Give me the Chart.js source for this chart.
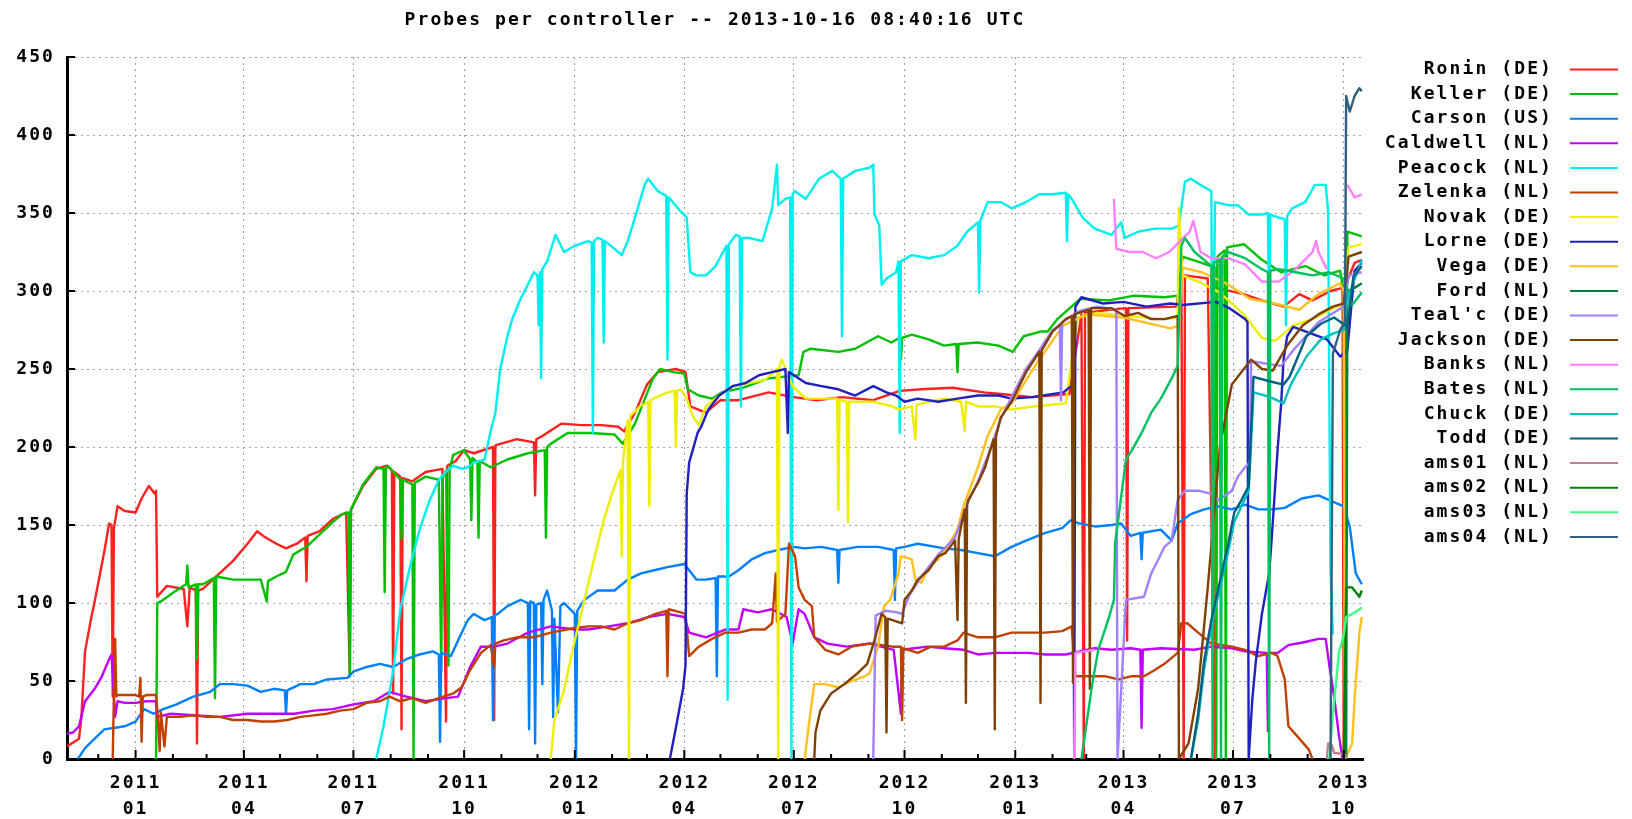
<!DOCTYPE html>
<html lang="en">
<head>
<meta charset="UTF-8">
<title>Probes per controller</title>
<script src="https://cdn.jsdelivr.net/npm/chart.js"></script>
<style>
    body { margin: 0; background: #fff; }
    #wrap { width: 1632px; height: 819px; }
</style>
</head>
<body>
<div id="wrap"><canvas id="probeChart" width="1632" height="819"></canvas></div>
<script>
// chart title and controller names (legend order)
const chartTitle = 'Probes per controller -- 2013-10-16 08:40:16 UTC';
const controllers = ['Ronin (DE)', 'Keller (DE)', 'Carson (US)', 'Caldwell (NL)', 'Peacock (NL)', 'Zelenka (NL)',
    'Novak (DE)', 'Lorne (DE)', 'Vega (DE)', 'Ford (NL)', "Teal'c (DE)", 'Jackson (DE)', 'Banks (NL)',
    'Bates (NL)', 'Chuck (DE)', 'Todd (DE)', 'ams01 (NL)', 'ams02 (NL)', 'ams03 (NL)', 'ams04 (NL)'];

// x range and y ticks
const xStart = '2010-11-05';
const xEnd = '2013-10-17';
const yTicks = [0, 50, 100, 150, 200, 250, 300, 350, 400, 450];

// probe counts per controller, [date, probes]
const ronin = [['2010-11-05',8],['2010-11-15',13],['2010-11-17',27],['2010-11-20',69],['2010-11-25',90],['2010-11-28',101],['2010-12-02',117],['2010-12-06',133],['2010-12-10',151],['2010-12-12',150],['2010-12-13',40],['2010-12-14',148],['2010-12-17',162],['2010-12-23',159],['2011-01-01',158],['2011-01-06',167],['2011-01-12',175],['2011-01-17',170],['2011-01-18',172],['2011-01-19',104],['2011-01-27',111],['2011-02-10',109],['2011-02-13',85],['2011-02-15',110],['2011-02-20',108],['2011-02-21',10],['2011-02-22',108],['2011-02-26',109],['2011-03-09',117],['2011-03-23',127],['2011-04-04',138],['2011-04-12',146],['2011-04-17',143],['2011-04-28',138],['2011-05-06',135],['2011-05-15',138],['2011-05-22',142],['2011-05-23',114],['2011-05-24',143],['2011-06-03',146],['2011-06-14',154],['2011-06-25',158],['2011-06-28',53],['2011-06-29',160],['2011-07-09',175],['2011-07-20',186],['2011-07-29',188],['2011-08-02',185],['2011-08-03',42],['2011-08-04',184],['2011-08-09',181],['2011-08-10',19],['2011-08-11',180],['2011-08-19',178],['2011-08-30',184],['2011-09-13',186],['2011-09-16',24],['2011-09-17',188],['2011-09-24',191],['2011-10-01',198],['2011-10-09',196],['2011-10-25',200],['2011-10-26',25],['2011-10-27',201],['2011-10-31',202],['2011-11-14',205],['2011-11-28',203],['2011-11-29',169],['2011-11-30',205],['2011-12-05',207],['2011-12-21',215],['2012-01-06',214],['2012-01-23',214],['2012-02-06',213],['2012-02-11',210],['2012-02-20',222],['2012-03-01',240],['2012-03-10',248],['2012-03-25',250],['2012-04-02',248],['2012-04-06',226],['2012-04-19',222],['2012-05-01',230],['2012-05-16',230],['2012-06-10',235],['2012-07-01',232],['2012-07-20',230],['2012-08-10',232],['2012-09-05',230],['2012-09-27',236],['2012-10-15',237],['2012-11-10',238],['2012-12-06',235],['2012-12-20',234],['2013-01-15',232],['2013-02-15',234],['2013-02-25',285],['2013-02-27',0],['2013-02-28',286],['2013-03-20',288],['2013-04-03',289],['2013-04-04',76],['2013-04-05',289],['2013-05-15',290],['2013-05-19',312],['2013-05-21',0],['2013-05-22',310],['2013-06-10',308],['2013-06-16',0],['2013-06-17',302],['2013-07-10',298],['2013-07-25',294],['2013-08-12',290],['2013-08-25',298],['2013-09-05',294],['2013-09-20',300],['2013-09-30',302],['2013-10-01',0],['2013-10-03',305],['2013-10-10',318],['2013-10-16',320]];

const keller = [['2011-01-18',0],['2011-01-19',100],['2011-01-22',101],['2011-02-02',107],['2011-02-12',112],['2011-02-13',124],['2011-02-14',110],['2011-02-20',112],['2011-02-21',64],['2011-02-22',112],['2011-02-26',112],['2011-03-07',116],['2011-03-08',39],['2011-03-09',117],['2011-03-23',115],['2011-04-04',115],['2011-04-15',115],['2011-04-20',101],['2011-04-21',114],['2011-04-28',117],['2011-05-06',120],['2011-05-12',131],['2011-05-23',136],['2011-06-03',144],['2011-06-14',152],['2011-06-22',157],['2011-06-27',158],['2011-06-28',53],['2011-06-29',160],['2011-07-09',176],['2011-07-20',187],['2011-07-26',186],['2011-07-27',107],['2011-07-28',187],['2011-07-31',187],['2011-08-09',179],['2011-08-10',141],['2011-08-11',179],['2011-08-19',176],['2011-08-20',0],['2011-08-21',177],['2011-08-30',181],['2011-09-10',179],['2011-09-12',56],['2011-09-13',180],['2011-09-16',185],['2011-09-18',60],['2011-09-19',186],['2011-09-22',195],['2011-10-01',198],['2011-10-06',192],['2011-10-07',153],['2011-10-08',193],['2011-10-12',190],['2011-10-13',142],['2011-10-14',191],['2011-10-23',187],['2011-11-06',192],['2011-11-23',196],['2011-12-07',198],['2011-12-08',142],['2011-12-09',200],['2011-12-12',202],['2011-12-26',209],['2012-01-14',209],['2012-02-03',208],['2012-02-10',202],['2012-02-20',215],['2012-03-06',244],['2012-03-12',250],['2012-03-23',248],['2012-04-01',247],['2012-04-04',237],['2012-04-13',233],['2012-04-24',231],['2012-05-02',235],['2012-05-20',238],['2012-06-10',244],['2012-07-05',246],['2012-07-09',261],['2012-07-15',263],['2012-08-07',261],['2012-08-21',263],['2012-09-09',271],['2012-09-20',267],['2012-09-27',270],['2012-09-28',256],['2012-09-29',270],['2012-10-07',272],['2012-10-21',269],['2012-11-03',265],['2012-11-13',266],['2012-11-14',248],['2012-11-15',266],['2012-12-01',267],['2012-12-18',265],['2012-12-30',261],['2013-01-08',271],['2013-01-22',274],['2013-01-28',274],['2013-02-05',282],['2013-02-24',295],['2013-03-20',294],['2013-04-10',297],['2013-05-05',296],['2013-05-17',297],['2013-05-20',322],['2013-06-05',318],['2013-06-16',315],['2013-06-17',0],['2013-06-18',322],['2013-06-24',326],['2013-06-25',0],['2013-06-26',328],['2013-07-10',330],['2013-07-25',320],['2013-08-10',312],['2013-08-30',316],['2013-09-15',310],['2013-09-28',313],['2013-10-01',300],['2013-10-02',0],['2013-10-04',338],['2013-10-16',335]];

const carson = [['2010-11-14',0],['2010-11-20',7],['2010-11-28',13],['2010-12-06',19],['2010-12-15',20],['2010-12-23',21],['2011-01-01',24],['2011-01-08',32],['2011-01-16',29],['2011-01-24',32],['2011-02-04',35],['2011-02-18',40],['2011-03-04',43],['2011-03-12',48],['2011-03-23',48],['2011-04-04',47],['2011-04-15',43],['2011-04-26',45],['2011-05-05',44],['2011-05-06',29],['2011-05-07',44],['2011-05-18',48],['2011-05-29',48],['2011-06-09',51],['2011-06-26',52],['2011-07-01',56],['2011-07-12',59],['2011-07-23',61],['2011-08-03',59],['2011-08-14',64],['2011-08-25',67],['2011-09-05',69],['2011-09-10',67],['2011-09-11',11],['2011-09-12',68],['2011-09-20',66],['2011-09-29',81],['2011-10-04',89],['2011-10-09',93],['2011-10-18',89],['2011-10-24',91],['2011-10-25',25],['2011-10-26',92],['2011-10-29',93],['2011-11-06',98],['2011-11-17',102],['2011-11-23',100],['2011-11-24',19],['2011-11-25',101],['2011-11-28',100],['2011-11-29',10],['2011-11-30',99],['2011-12-04',100],['2011-12-05',48],['2011-12-06',102],['2011-12-09',108],['2011-12-13',95],['2011-12-14',27],['2011-12-15',90],['2011-12-18',30],['2011-12-20',98],['2011-12-23',100],['2012-01-01',93],['2012-01-02',0],['2012-01-03',95],['2012-01-09',102],['2012-01-20',108],['2012-02-03',108],['2012-02-14',115],['2012-02-25',119],['2012-03-07',121],['2012-03-18',123],['2012-04-01',125],['2012-04-11',115],['2012-04-19',115],['2012-04-27',116],['2012-04-28',53],['2012-04-29',117],['2012-05-08',117],['2012-05-16',121],['2012-05-27',128],['2012-06-07',132],['2012-06-18',134],['2012-07-01',136],['2012-07-10',135],['2012-07-24',136],['2012-08-06',134],['2012-08-07',113],['2012-08-08',134],['2012-08-23',136],['2012-09-09',136],['2012-09-22',134],['2012-09-23',102],['2012-09-24',135],['2012-10-01',136],['2012-10-12',138],['2012-11-03',135],['2012-11-17',134],['2012-12-01',132],['2012-12-15',130],['2012-12-29',136],['2013-01-10',140],['2013-01-26',145],['2013-02-09',148],['2013-02-16',153],['2013-02-23',151],['2013-03-09',149],['2013-03-22',150],['2013-03-30',151],['2013-04-07',143],['2013-04-15',145],['2013-04-16',128],['2013-04-17',145],['2013-05-02',147],['2013-05-11',140],['2013-05-16',151],['2013-05-27',157],['2013-06-07',160],['2013-06-19',162],['2013-06-30',160],['2013-07-11',163],['2013-07-22',160],['2013-08-02',160],['2013-08-13',161],['2013-08-27',167],['2013-09-10',169],['2013-09-19',166],['2013-10-01',162],['2013-10-06',149],['2013-10-11',119],['2013-10-16',112]];

const caldwell = [['2010-11-04',16],['2010-11-10',17],['2010-11-15',21],['2010-11-20',37],['2010-11-28',45],['2010-12-04',53],['2010-12-10',64],['2010-12-12',67],['2010-12-15',27],['2010-12-17',37],['2010-12-23',36],['2011-01-01',36],['2011-01-10',37],['2011-01-18',37],['2011-01-19',27],['2011-01-30',29],['2011-02-18',28],['2011-03-12',27],['2011-04-04',29],['2011-04-26',29],['2011-05-13',29],['2011-05-29',31],['2011-06-14',32],['2011-07-01',35],['2011-07-18',37],['2011-07-31',43],['2011-08-14',40],['2011-08-30',37],['2011-09-16',39],['2011-09-26',40],['2011-10-06',59],['2011-10-15',72],['2011-10-26',72],['2011-11-06',74],['2011-11-23',81],['2011-12-12',85],['2012-01-01',83],['2012-01-12',83],['2012-01-29',85],['2012-02-14',87],['2012-03-02',91],['2012-03-18',93],['2012-04-01',91],['2012-04-05',81],['2012-04-19',78],['2012-05-05',83],['2012-05-16',83],['2012-05-20',96],['2012-06-01',94],['2012-06-13',96],['2012-06-25',91],['2012-06-30',74],['2012-07-05',96],['2012-07-10',93],['2012-07-18',78],['2012-07-29',74],['2012-08-14',72],['2012-09-02',74],['2012-09-22',70],['2012-09-28',29],['2012-09-29',70],['2012-10-20',72],['2012-11-03',71],['2012-11-19',70],['2012-12-01',67],['2012-12-15',68],['2013-01-12',68],['2013-01-26',67],['2013-02-12',67],['2013-03-08',71],['2013-03-22',70],['2013-04-07',71],['2013-04-15',70],['2013-04-16',20],['2013-04-17',70],['2013-05-02',71],['2013-05-30',70],['2013-06-13',72],['2013-06-30',71],['2013-07-11',69],['2013-07-29',68],['2013-07-30',18],['2013-07-31',68],['2013-08-07',68],['2013-08-16',73],['2013-08-30',75],['2013-09-10',77],['2013-09-16',77],['2013-09-19',60],['2013-09-23',40],['2013-09-27',15],['2013-09-30',0]];

const peacock = [['2011-07-20',0],['2011-07-26',21],['2011-08-03',56],['2011-08-09',96],['2011-08-17',123],['2011-08-25',147],['2011-09-02',165],['2011-09-10',179],['2011-09-17',185],['2011-09-22',188],['2011-09-29',186],['2011-10-04',187],['2011-10-09',190],['2011-10-18',192],['2011-10-23',210],['2011-10-27',222],['2011-10-31',250],['2011-11-06',271],['2011-11-10',282],['2011-11-17',295],['2011-11-23',304],['2011-11-28',312],['2011-12-01',310],['2011-12-02',278],['2011-12-03',312],['2011-12-04',244],['2011-12-05',314],['2011-12-09',319],['2011-12-16',336],['2011-12-23',325],['2012-01-01',329],['2012-01-12',332],['2012-01-15',331],['2012-01-16',209],['2012-01-17',332],['2012-01-20',334],['2012-01-24',333],['2012-01-25',267],['2012-01-26',332],['2012-02-03',327],['2012-02-09',323],['2012-02-14',332],['2012-02-20',347],['2012-02-28',368],['2012-03-02',372],['2012-03-10',364],['2012-03-17',361],['2012-03-18',256],['2012-03-19',360],['2012-03-29',351],['2012-04-03',347],['2012-04-06',312],['2012-04-11',310],['2012-04-19',310],['2012-04-27',316],['2012-05-06',329],['2012-05-07',38],['2012-05-08',330],['2012-05-14',336],['2012-05-17',335],['2012-05-18',226],['2012-05-19',334],['2012-05-25',334],['2012-06-05',332],['2012-06-13',353],['2012-06-17',381],['2012-06-18',355],['2012-06-24',359],['2012-06-28',360],['2012-06-29',0],['2012-06-30',362],['2012-07-02',364],['2012-07-11',359],['2012-07-22',372],['2012-08-02',377],['2012-08-09',372],['2012-08-10',271],['2012-08-11',372],['2012-08-21',377],['2012-09-02',379],['2012-09-05',381],['2012-09-06',349],['2012-09-10',342],['2012-09-12',304],['2012-09-16',308],['2012-09-24',312],['2012-09-26',319],['2012-09-27',209],['2012-09-28',319],['2012-10-07',323],['2012-10-21',321],['2012-11-03',323],['2012-11-14',329],['2012-11-22',338],['2012-12-01',344],['2012-12-02',299],['2012-12-03',345],['2012-12-09',357],['2012-12-20',357],['2012-12-29',353],['2013-01-10',357],['2013-01-21',362],['2013-02-01',362],['2013-02-12',363],['2013-02-13',332],['2013-02-14',362],['2013-02-17',359],['2013-02-26',347],['2013-03-08',340],['2013-03-22',336],['2013-03-30',344],['2013-04-02',334],['2013-04-13',338],['2013-04-27',340],['2013-05-11',340],['2013-05-17',342],['2013-05-22',370],['2013-05-27',372],['2013-06-04',368],['2013-06-13',364],['2013-06-14',218],['2013-06-16',357],['2013-06-27',355],['2013-07-05',355],['2013-07-14',349],['2013-07-25',349],['2013-07-30',350],['2013-07-31',278],['2013-08-01',349],['2013-08-08',347],['2013-08-13',346],['2013-08-14',278],['2013-08-15',348],['2013-08-19',353],['2013-08-30',357],['2013-09-07',368],['2013-09-16',368],['2013-09-18',351],['2013-09-20',120],['2013-09-22',80]];

const zelenka = [['2010-12-13',0],['2010-12-14',43],['2010-12-15',77],['2010-12-16',40],['2010-12-17',41],['2010-12-23',41],['2011-01-01',41],['2011-01-04',40],['2011-01-05',52],['2011-01-06',11],['2011-01-07',40],['2011-01-10',41],['2011-01-18',41],['2011-01-19',32],['2011-01-21',5],['2011-01-22',30],['2011-01-25',8],['2011-01-27',27],['2011-02-07',27],['2011-02-18',28],['2011-03-01',27],['2011-03-12',27],['2011-03-23',25],['2011-04-04',25],['2011-04-15',24],['2011-04-26',24],['2011-05-07',25],['2011-05-18',27],['2011-05-29',28],['2011-06-09',29],['2011-06-20',31],['2011-07-01',32],['2011-07-12',36],['2011-07-23',37],['2011-07-31',40],['2011-08-09',37],['2011-08-19',39],['2011-08-30',36],['2011-09-10',39],['2011-09-22',42],['2011-09-29',46],['2011-10-06',57],['2011-10-15',68],['2011-10-23',73],['2011-10-26',59],['2011-10-27',74],['2011-11-03',76],['2011-11-14',78],['2011-11-28',78],['2011-12-12',81],['2012-01-01',84],['2012-01-12',85],['2012-01-23',85],['2012-02-03',83],['2012-02-14',87],['2012-02-25',89],['2012-03-08',93],['2012-03-17',95],['2012-03-18',53],['2012-03-19',96],['2012-03-29',94],['2012-04-02',93],['2012-04-05',66],['2012-04-13',72],['2012-04-24',77],['2012-05-05',81],['2012-05-16',81],['2012-05-27',83],['2012-06-07',83],['2012-06-13',87],['2012-06-16',119],['2012-06-17',88],['2012-06-24',93],['2012-06-27',138],['2012-07-02',130],['2012-07-05',110],['2012-07-10',102],['2012-07-16',98],['2012-07-18',78],['2012-07-27',70],['2012-08-07',67],['2012-08-18',72],['2012-09-02',74],['2012-09-21',72],['2012-09-28',72],['2012-09-29',25],['2012-09-30',71],['2012-10-12',68],['2012-10-23',72],['2012-11-03',72],['2012-11-14',76],['2012-11-19',81],['2012-12-01',78],['2012-12-15',78],['2012-12-29',81],['2013-01-12',81],['2013-01-26',81],['2013-02-09',82],['2013-02-17',85],['2013-02-20',53],['2013-02-28',53],['2013-03-17',53],['2013-03-28',51],['2013-04-07',53],['2013-04-18',53],['2013-04-27',57],['2013-05-05',61],['2013-05-16',68],['2013-05-19',87],['2013-05-24',87],['2013-06-02',81],['2013-06-13',74],['2013-06-30',72],['2013-07-11',70],['2013-07-22',66],['2013-08-02',68],['2013-08-07',66],['2013-08-13',51],['2013-08-16',21],['2013-08-24',14],['2013-09-02',6],['2013-09-05',0]];

const novak = [['2011-12-12',0],['2011-12-15',25],['2011-12-23',44],['2012-01-01',76],['2012-01-09',102],['2012-01-17',128],['2012-01-25',153],['2012-02-03',175],['2012-02-08',185],['2012-02-09',130],['2012-02-10',190],['2012-02-14',217],['2012-02-15',0],['2012-02-16',220],['2012-02-19',222],['2012-02-24',226],['2012-03-02',229],['2012-03-03',162],['2012-03-04',230],['2012-03-06',231],['2012-03-18',235],['2012-03-24',236],['2012-03-25',200],['2012-03-26',236],['2012-03-29',237],['2012-04-03',231],['2012-04-08',220],['2012-04-13',214],['2012-04-19',226],['2012-04-30',233],['2012-05-11',239],['2012-05-25',241],['2012-06-07',243],['2012-06-17',250],['2012-06-18',0],['2012-06-19',252],['2012-06-21',256],['2012-06-30',239],['2012-07-11',231],['2012-07-24',231],['2012-08-06',231],['2012-08-07',160],['2012-08-08',230],['2012-08-14',229],['2012-08-15',152],['2012-08-16',229],['2012-08-21',229],['2012-09-05',229],['2012-09-21',226],['2012-09-26',224],['2012-10-07',226],['2012-10-10',205],['2012-10-11',227],['2012-10-21',229],['2012-11-03',231],['2012-11-17',229],['2012-11-20',210],['2012-11-21',229],['2012-12-01',226],['2012-12-15',226],['2012-12-29',224],['2013-01-16',226],['2013-02-12',228],['2013-02-22',283],['2013-03-10',286],['2013-04-05',284],['2013-05-05',282],['2013-05-16',283],['2013-05-17',353],['2013-05-20',310],['2013-06-05',305],['2013-06-20',299],['2013-07-10',285],['2013-07-25',270],['2013-08-05',268],['2013-08-20',278],['2013-09-05',282],['2013-09-20',288],['2013-10-01',292],['2013-10-05',328],['2013-10-16',330]];

const lorne = [['2012-03-20',0],['2012-03-25',20],['2012-03-31',45],['2012-04-02',60],['2012-04-03',170],['2012-04-05',190],['2012-04-08',198],['2012-04-12',209],['2012-04-15',213],['2012-04-21',224],['2012-04-30',233],['2012-05-11',239],['2012-05-22',241],['2012-06-02',246],['2012-06-13',248],['2012-06-24',250],['2012-06-26',209],['2012-06-27',248],['2012-07-01',246],['2012-07-11',241],['2012-07-24',239],['2012-08-07',237],['2012-08-21',233],['2012-09-05',239],['2012-09-16',235],['2012-09-24',233],['2012-10-01',229],['2012-10-12',231],['2012-10-29',229],['2012-11-14',231],['2012-12-01',233],['2012-12-18',233],['2012-12-29',231],['2013-01-15',232],['2013-02-10',235],['2013-02-18',240],['2013-02-19',0],['2013-02-20',290],['2013-02-25',296],['2013-03-15',292],['2013-04-01',293],['2013-04-20',290],['2013-05-10',292],['2013-05-20',291],['2013-06-17',293],['2013-06-28',289],['2013-07-11',282],['2013-07-13',280],['2013-07-14',0],['2013-07-17',38],['2013-07-20',63],['2013-07-25',93],['2013-07-31',119],['2013-08-02',140],['2013-08-07',198],['2013-08-10',228],['2013-08-12',256],['2013-08-15',271],['2013-08-20',277],['2013-09-03',273],['2013-09-17',269],['2013-09-28',258],['2013-10-04',262],['2013-10-10',313],['2013-10-16',318]];

const vega = [['2012-07-10',0],['2012-07-14',25],['2012-07-18',48],['2012-07-27',48],['2012-08-07',46],['2012-08-18',50],['2012-08-29',53],['2012-09-02',55],['2012-09-09',72],['2012-09-14',98],['2012-09-19',102],['2012-09-26',119],['2012-09-28',130],['2012-10-07',128],['2012-10-10',115],['2012-10-15',113],['2012-10-21',123],['2012-10-29',128],['2012-11-04',134],['2012-11-14',147],['2012-11-19',162],['2012-12-01',187],['2012-12-09',207],['2012-12-20',224],['2012-12-29',228],['2013-01-20',255],['2013-02-10',278],['2013-03-01',285],['2013-04-01',283],['2013-05-10',276],['2013-05-17',278],['2013-05-20',315],['2013-06-05',312],['2013-06-25',305],['2013-07-15',295],['2013-08-05',292],['2013-08-25',288],['2013-09-10',298],['2013-09-28',305],['2013-10-01',300],['2013-10-02',0],['2013-10-08',10],['2013-10-10',38],['2013-10-14',81],['2013-10-16',91]];

const ford = [['2013-10-03',0],['2013-10-04',300],['2013-10-10',302],['2013-10-16',305]];

const tealc = [['2012-09-05',0],['2012-09-07',92],['2012-09-15',95],['2012-09-25',94],['2012-09-29',93],['2012-10-05',105],['2012-10-15',117],['2012-10-29',131],['2012-11-12',142],['2012-11-23',165],['2012-12-01',178],['2012-12-12',200],['2012-12-20',218],['2012-12-29',232],['2013-01-10',250],['2013-01-21',262],['2013-02-01',275],['2013-02-07',278],['2013-02-08',230],['2013-02-09',280],['2013-02-23',287],['2013-03-10',290],['2013-03-26',288],['2013-03-27',0],['2013-04-03',102],['2013-04-18',104],['2013-04-24',119],['2013-04-30',128],['2013-05-05',136],['2013-05-11',140],['2013-05-16',166],['2013-05-22',172],['2013-06-02',172],['2013-06-13',170],['2013-06-19',166],['2013-06-30',172],['2013-07-05',181],['2013-07-11',187],['2013-07-15',190],['2013-07-16',255],['2013-08-10',252],['2013-08-20',262],['2013-09-10',280],['2013-10-01',290],['2013-10-05',310],['2013-10-16',312]];

const jackson = [['2012-07-18',0],['2012-07-19',17],['2012-07-23',31],['2012-08-01',42],['2012-08-12',48],['2012-08-23',55],['2012-08-31',61],['2012-09-06',76],['2012-09-12',93],['2012-09-15',91],['2012-09-16',17],['2012-09-17',90],['2012-09-21',89],['2012-09-29',87],['2012-10-01',102],['2012-10-07',108],['2012-10-12',115],['2012-10-21',121],['2012-10-29',130],['2012-11-04',132],['2012-11-12',140],['2012-11-14',89],['2012-11-15',141],['2012-11-17',149],['2012-11-20',160],['2012-11-21',36],['2012-11-22',163],['2012-11-23',166],['2012-12-01',177],['2012-12-07',187],['2012-12-12',200],['2012-12-14',205],['2012-12-15',19],['2012-12-16',207],['2012-12-20',219],['2012-12-29',229],['2013-01-10',248],['2013-01-21',261],['2013-01-22',36],['2013-01-23',262],['2013-02-01',274],['2013-02-12',282],['2013-02-17',284],['2013-02-18',49],['2013-02-19',285],['2013-02-23',286],['2013-03-03',288],['2013-03-04',45],['2013-03-05',289],['2013-03-22',289],['2013-04-02',284],['2013-04-13',286],['2013-04-24',282],['2013-05-05',282],['2013-05-16',284],['2013-05-17',0],['2013-05-25',10],['2013-06-02',45],['2013-06-10',110],['2013-06-20',200],['2013-06-30',240],['2013-07-16',256],['2013-07-25',250],['2013-08-03',249],['2013-08-15',265],['2013-08-28',278],['2013-09-10',285],['2013-09-22',290],['2013-10-01',292],['2013-10-05',322],['2013-10-16',325]];

const banks = [['2013-02-19',0],['2013-02-20',68],['2013-03-08',70],['2013-03-09',null],['2013-03-24',359],['2013-03-26',327],['2013-04-06',325],['2013-04-17',325],['2013-04-28',321],['2013-05-09',325],['2013-05-18',332],['2013-05-26',338],['2013-05-29',345],['2013-06-04',325],['2013-06-13',321],['2013-06-27',321],['2013-07-11',317],['2013-07-25',306],['2013-08-08',306],['2013-08-22',314],['2013-09-05',325],['2013-09-08',332],['2013-09-10',325],['2013-09-17',314],['2013-09-18',null],['2013-10-04',368],['2013-10-10',360],['2013-10-16',362]];

const bates = [['2013-02-25',0],['2013-03-06',48],['2013-03-11',70],['2013-03-20',91],['2013-03-24',102],['2013-03-25',138],['2013-04-03',192],['2013-04-08',198],['2013-04-16',209],['2013-04-24',222],['2013-05-02',231],['2013-05-11',244],['2013-05-16',252],['2013-05-19',329],['2013-05-22',334],['2013-05-30',325],['2013-06-13',316],['2013-06-14',0],['2013-06-15',318],['2013-06-20',320],['2013-06-21',0],['2013-06-22',322],['2013-06-27',325],['2013-07-11',321],['2013-07-25',314],['2013-07-30',312],['2013-07-31',0],['2013-08-01',313],['2013-08-08',314],['2013-08-22',312],['2013-09-05',310],['2013-09-19',312],['2013-10-01',308],['2013-10-08',291],['2013-10-16',299]];

const chuck = [['2013-05-27',0],['2013-06-02',25],['2013-06-07',58],['2013-06-13',85],['2013-06-19',106],['2013-06-27',133],['2013-07-02',152],['2013-07-08',162],['2013-07-14',172],['2013-07-18',235],['2013-08-01',232],['2013-08-12',228],['2013-08-18',240],['2013-08-31',258],['2013-09-12',269],['2013-09-23',273],['2013-10-01',275],['2013-10-04',295],['2013-10-16',320]];

const todd = [['2013-05-27',0],['2013-06-02',29],['2013-06-07',63],['2013-06-13',89],['2013-06-19',110],['2013-06-27',138],['2013-07-02',158],['2013-07-08',166],['2013-07-14',175],['2013-07-18',245],['2013-08-01',242],['2013-08-12',240],['2013-08-17',245],['2013-08-24',258],['2013-08-31',271],['2013-09-12',279],['2013-09-23',283],['2013-10-04',277],['2013-10-09',309],['2013-10-16',316]];

const ams01 = [['2013-09-17',0],['2013-09-18',10],['2013-09-21',9],['2013-09-23',4],['2013-10-02',3],['2013-10-03',0]];
const ams02 = [['2013-10-01',0],['2013-10-03',110],['2013-10-08',110],['2013-10-12',106],['2013-10-14',104],['2013-10-16',108]];
const ams03 = [['2013-09-19',0],['2013-09-22',29],['2013-09-27',68],['2013-10-01',80],['2013-10-03',91],['2013-10-08',93],['2013-10-16',97]];
const ams04 = [['2013-09-20',0],['2013-09-22',260],['2013-09-28',275],['2013-10-02',280],['2013-10-03',425],['2013-10-06',415],['2013-10-10',425],['2013-10-14',430],['2013-10-16',428]];

const seriesList = [ronin, keller, carson, caldwell, peacock, zelenka, novak, lorne, vega, ford,
    tealc, jackson, banks, bates, chuck, todd, ams01, ams02, ams03, ams04];
const lineColors = ['#ff2020', '#00c000', '#0080ff', '#c000ff', '#00eeee', '#c04000', '#eeee00', '#2020c0',
    '#ffc020', '#008040', '#a080ff', '#804000', '#ff80ff', '#00c060', '#00c0c0', '#006080',
    '#c08090', '#008000', '#40ff80', '#306080'];

// date helpers
const dayOf = s => Date.UTC(+s.slice(0, 4), +s.slice(5, 7) - 1, +s.slice(8, 10)) / 864e5;
const xMin = dayOf(xStart);
const xMax = dayOf(xEnd);

// month starts for tick marks, quarter starts get labels and grid lines
const monthStarts = [];
for (let y = 2010; y <= 2013; y++) {
    for (let m = 0; m < 12; m++) {
        const d = Date.UTC(y, m, 1) / 864e5;
        if (d >= xMin && d <= xMax) monthStarts.push({ value: d, quarter: m % 3 === 0 });
    }
}
const quarterDays = monthStarts.filter(t => t.quarter).map(t => t.value);

const FONT = "'DejaVu Sans Mono', monospace";
const SPACING = '2.1px';

// title, legend and inward tick marks (gnuplot style)
const gnuplotBits = {
    id: 'gnuplotBits',
    beforeDraw(chart) {
        chart.ctx.letterSpacing = SPACING;
    },
    afterDraw(chart) {
        const { ctx, chartArea: a, scales: { x, y } } = chart;
        ctx.save();
        ctx.letterSpacing = SPACING;
        ctx.strokeStyle = '#000';
        ctx.lineWidth = 2;
        ctx.beginPath();
        monthStarts.forEach(t => {
            const px = x.getPixelForValue(t.value);
            ctx.moveTo(px, a.bottom);
            ctx.lineTo(px, a.bottom - (t.quarter ? 9 : 5));
        });
        y.ticks.forEach(t => {
            const py = y.getPixelForValue(t.value);
            ctx.moveTo(a.left, py);
            ctx.lineTo(a.left + 8, py);
        });
        ctx.stroke();

        ctx.fillStyle = '#000';
        ctx.font = 'bold 18px ' + FONT;
        ctx.textBaseline = 'middle';
        ctx.textAlign = 'center';
        ctx.fillText(chartTitle, (a.left + a.right) / 2, 20);

        ctx.textAlign = 'right';
        chart.data.datasets.forEach((ds, i) => {
            const ly = 69.5 + i * 24.6;
            ctx.fillStyle = '#000';
            ctx.fillText(ds.label, 1553, ly);
            ctx.strokeStyle = ds.borderColor;
            ctx.lineWidth = 2;
            ctx.beginPath();
            ctx.moveTo(1570, ly);
            ctx.lineTo(1618, ly);
            ctx.stroke();
        });
        ctx.restore();
    }
};

const datasets = seriesList.map((s, i) => ({
    label: controllers[i],
    data: s.map(p => ({ x: dayOf(p[0]), y: p[1] })),
    borderColor: lineColors[i],
    backgroundColor: lineColors[i],
    borderWidth: 2.4,
    borderJoinStyle: 'round',
    pointRadius: 0,
    tension: 0,
    order: -i
}));

new Chart(document.getElementById('probeChart'), {
    type: 'line',
    data: { datasets },
    plugins: [gnuplotBits],
    options: {
        responsive: false,
        devicePixelRatio: 1,
        animation: false,
        layout: { padding: { top: 57, right: 269, bottom: 0, left: 0 } },
        plugins: {
            legend: { display: false },
            tooltip: { enabled: false },
            title: { display: false }
        },
        font: { family: FONT, size: 18, weight: 'bold' },
        scales: {
            x: {
                type: 'linear',
                min: xMin,
                max: xMax,
                afterBuildTicks: scale => { scale.ticks = quarterDays.map(v => ({ value: v })); },
                afterFit: scale => { scale.height = 60; },
                ticks: {
                    autoSkip: false,
                    maxRotation: 0,
                    padding: 12,
                    color: '#000',
                    font: { family: FONT, size: 18, weight: 'bold', lineHeight: 1.42 },
                    callback: v => {
                        const d = new Date(v * 864e5);
                        return [String(d.getUTCFullYear()), String(d.getUTCMonth() + 1).padStart(2, '0')];
                    }
                },
                grid: { color: '#a0a0a0', lineWidth: 1, drawTicks: false },
                border: { display: true, color: '#000', width: 3, dash: [2, 4] }
            },
            y: {
                min: 0,
                max: 450,
                afterBuildTicks: scale => { scale.ticks = yTicks.map(v => ({ value: v })); },
                afterFit: scale => { scale.width = 67; },
                ticks: {
                    padding: 12,
                    color: '#000',
                    font: { family: FONT, size: 18, weight: 'bold' }
                },
                grid: {
                    color: c => (c.tick && c.tick.value === 0 ? 'rgba(0,0,0,0)' : '#a0a0a0'),
                    lineWidth: 1,
                    drawTicks: false
                },
                border: { display: true, color: '#000', width: 3, dash: [2, 4] }
            }
        }
    }
});
</script>
</body>
</html>
